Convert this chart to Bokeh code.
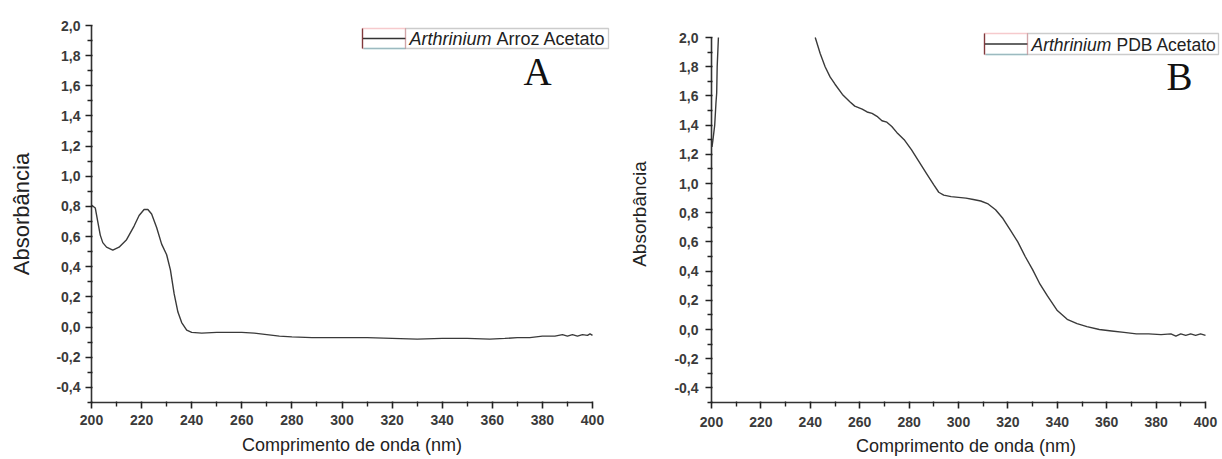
import numpy as np
from bokeh.plotting import figure
from bokeh.layouts import row
from bokeh.models import FixedTicker, Label, BoxAnnotation, ColumnDataSource
from bokeh.embed import file_html
from bokeh.resources import INLINE

# ---------------- data ----------------
nm_a = [200, 201.5, 202.5, 203.5, 204.5, 206, 208.5, 211, 214, 217, 219, 221, 222.5, 224,
        226, 228, 230, 231.5, 233, 234.5, 236, 238, 240, 244, 250, 256, 260, 265, 270, 275,
        280, 288, 300, 310, 320, 330, 340, 350, 359, 365, 370, 375, 380, 385, 388, 390, 392,
        394, 396, 398, 399, 400]
abs_a = [0.81, 0.79, 0.70, 0.61, 0.56, 0.53, 0.51, 0.53, 0.58, 0.67, 0.74, 0.78, 0.78, 0.75,
         0.66, 0.55, 0.48, 0.38, 0.22, 0.10, 0.03, -0.02, -0.035, -0.04, -0.035, -0.035, -0.035,
         -0.04, -0.05, -0.06, -0.065, -0.07, -0.07, -0.07, -0.075, -0.08, -0.075, -0.075, -0.08,
         -0.075, -0.07, -0.07, -0.06, -0.06, -0.05, -0.06, -0.05, -0.06, -0.05, -0.055, -0.045,
         -0.055]

nm_b = [200.2, 200.6, 201.3, 201.8, 202.1, 202.3, 202.6, 202.8, np.nan,
        242, 244, 246, 248, 250, 253, 256, 258, 261, 263, 265, 267, 269, 271, 273, 275, 278,
        281, 284, 287, 290, 292, 294, 297, 300, 303, 306, 309, 312, 315, 318, 321, 324, 327,
        330, 333, 336, 340, 344, 348, 352, 357, 362, 367, 372, 377, 382, 386, 388, 390, 392,
        394, 396, 398, 400]
abs_b = [1.25, 1.30, 1.40, 1.55, 1.62, 1.80, 1.92, 2.0, np.nan,
         2.0, 1.89, 1.80, 1.73, 1.68, 1.61, 1.56, 1.53, 1.51, 1.49, 1.48, 1.46, 1.43, 1.42,
         1.39, 1.35, 1.30, 1.23, 1.15, 1.07, 0.99, 0.94, 0.92, 0.91, 0.905, 0.90, 0.89, 0.88,
         0.86, 0.82, 0.76, 0.68, 0.60, 0.50, 0.41, 0.31, 0.23, 0.13, 0.07, 0.04, 0.02, 0.00,
         -0.01, -0.02, -0.03, -0.03, -0.035, -0.03, -0.045, -0.03, -0.04, -0.03, -0.04, -0.03,
         -0.04]

x_ticks = [200, 220, 240, 260, 280, 300, 320, 340, 360, 380, 400]
x_minor = [210, 230, 250, 270, 290, 310, 330, 350, 370, 390]
y_ticks = [-0.4, -0.2, 0.0, 0.2, 0.4, 0.6, 0.8, 1.0, 1.2, 1.4, 1.6, 1.8, 2.0]
y_tick_labels = ["-0,4", "-0,2", "0,0", "0,2", "0,4", "0,6", "0,8", "1,0", "1,2", "1,4",
                 "1,6", "1,8", "2,0"]
y_minor = [-0.5, -0.3, -0.1, 0.1, 0.3, 0.5, 0.7, 0.9, 1.1, 1.3, 1.5, 1.7, 1.9]

x_title = "Comprimento de onda (nm)"
y_title = "Absorbância"
legend_italic = "Arthrinium"
legend_a = "Arroz Acetato"
legend_b = "PDB Acetato"

FONT = "Liberation Sans"
AXC = "#333333"
LINEC = "#3a3a3a"
H = 459
TOP = 25      # shared frame top (frames of a row are aligned)
BOTTOM = 57   # shared bottom border -> frame bottom at 402


def make_panel(nm, ab, width, left_px, right_px, x_end, y_end,
               ytitle_size, panel_letter, leg_txt, leg_box, letter_pos,
               page_left, x_ls, x_as, y_ls, y_as, leg_size, leg_off):
    p = figure(width=width, height=H, output_backend="svg", toolbar_location=None,
               x_range=(200, x_end), y_range=(-0.5, y_end),
               min_border_left=left_px, min_border_right=right_px,
               min_border_top=TOP, min_border_bottom=BOTTOM)
    p.grid.visible = False
    p.outline_line_color = None
    p.background_fill_color = "white"
    p.border_fill_color = "white"

    src = ColumnDataSource(dict(x=nm, y=ab))
    p.line("x", "y", source=src, line_color=LINEC, line_width=1.4)

    xa = p.xaxis[0]
    ya = p.yaxis[0]
    xa.ticker = FixedTicker(ticks=x_ticks, minor_ticks=x_minor)
    ya.ticker = FixedTicker(ticks=y_ticks, minor_ticks=y_minor)
    ya.major_label_overrides = {t: l for t, l in zip(y_ticks, y_tick_labels)}
    xa.bounds = (200, 400)
    ya.bounds = (-0.5, 2.0)
    for ax in (xa, ya):
        ax.axis_line_color = AXC
        ax.axis_line_width = 1.6
        ax.major_tick_line_color = "#222222"
        ax.major_tick_line_width = 1.6
        ax.minor_tick_line_color = "#222222"
        ax.minor_tick_line_width = 1.4
        ax.major_tick_in = 1
        ax.major_tick_out = 6
        ax.minor_tick_in = 1
        ax.minor_tick_out = 4
        ax.major_label_text_font = FONT
        ax.major_label_text_font_size = "14px"
        ax.major_label_text_font_style = "bold"
        ax.major_label_text_color = "#3a3a3a"
        ax.axis_label_text_font = FONT
        ax.axis_label_text_font_style = "normal"
        ax.axis_label_text_color = "#222222"
    xa.axis_label = x_title
    xa.axis_label_text_font_size = "18px"
    xa.major_label_standoff = x_ls
    xa.axis_label_standoff = x_as
    ya.axis_label = y_title
    ya.axis_label_text_font_size = ytitle_size
    ya.major_label_standoff = y_ls
    ya.axis_label_standoff = y_as

    # frame geometry helpers (page px -> data), used only for annotation placement
    fw = width - left_px - right_px
    fh = H - TOP - BOTTOM
    sx = fw / (x_end - 200)
    sy = fh / (y_end + 0.5)
    frame_left = page_left + left_px

    def dx(px):
        return 200 + (px - frame_left) / sx

    def dy(py):
        return y_end - (py - TOP) / sy

    L, S, R, T, B = leg_box
    p.add_layout(BoxAnnotation(left=dx(S), right=dx(R), top=dy(T), bottom=dy(B),
                               fill_alpha=0, line_color="#555555", line_width=1.3))
    p.add_layout(BoxAnnotation(left=dx(L), right=dx(S), top=dy(T), bottom=dy(B),
                               fill_alpha=0, line_color="#e0505a", line_width=1.3))
    mid = (T + B) / 2
    p.segment(x0=[dx(L)], y0=[dy(mid)], x1=[dx(S)], y1=[dy(mid)],
              line_color="#333333", line_width=1.4)
    p.segment(x0=[dx(L + 1)], y0=[dy(B)], x1=[dx(S)], y1=[dy(B)],
              line_color="#7fe8ec", line_width=1.6)
    p.segment(x0=[dx(L)], y0=[dy(T)], x1=[dx(L)], y1=[dy(B)],
              line_color="#5a3030", line_width=1.3)
    p.add_layout(Label(x=dx(S + 4), y=dy(mid + 0.5), text=legend_italic, text_font=FONT,
                       text_font_style="italic", text_font_size=leg_size,
                       text_baseline="middle", text_align="left", text_color="#222222"))
    p.add_layout(Label(x=dx(S + 4), y=dy(mid + 0.5), x_offset=leg_off, text=leg_txt,
                       text_font=FONT, text_font_size=leg_size, text_baseline="middle",
                       text_align="left", text_color="#222222"))
    lx, ly = letter_pos
    p.add_layout(Label(x=dx(lx), y=dy(ly), text=panel_letter, text_font="Liberation Serif",
                       text_font_size="39px", text_baseline="middle", text_align="center",
                       text_color="#111111"))
    return p


FRAME_BOTTOM = H - BOTTOM

# Panel A: page x 0..616, frame x 91..612, 2.0 at frame top
pa = make_panel(nm_a, abs_a, width=616, left_px=91, right_px=4,
                x_end=200 + (612 - 91) / 2.505, y_end=2.0, ytitle_size="22px",
                panel_letter="A", leg_txt=legend_a, leg_box=(362, 405, 608, 28, 48),
                letter_pos=(537, 71), page_left=0, x_ls=6, x_as=7, y_ls=5, y_as=19,
                leg_size="18px", leg_off=87)

# Panel B: page x 616..1222, frame x 711..1220, 2.0 at page y 37
b_scale = (FRAME_BOTTOM - 37) / 2.5
pb = make_panel(nm_b, abs_b, width=606, left_px=95, right_px=2,
                x_end=200 + (1220 - 711) / 2.47, y_end=2.0 + (37 - TOP) / b_scale,
                ytitle_size="19px", panel_letter="B", leg_txt=legend_b,
                leg_box=(984, 1027, 1218, 33, 54), letter_pos=(1179, 76),
                page_left=616, x_ls=8, x_as=6, y_ls=7, y_as=21,
                leg_size="17.5px", leg_off=85)

layout = row(pa, pb)
open("out.html", "w").write(file_html(layout, INLINE))
